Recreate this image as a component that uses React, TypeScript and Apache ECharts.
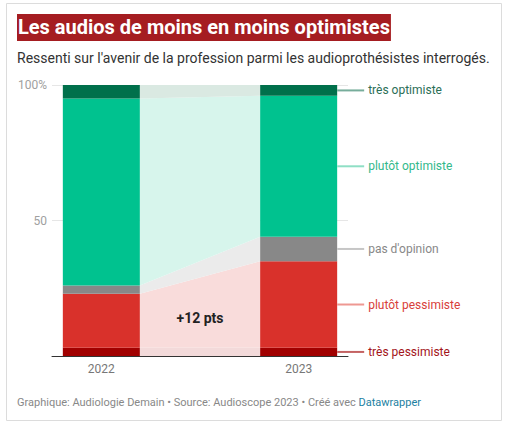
import React, { useEffect, useRef } from 'react';
import * as echarts from 'echarts';

const years = ['2022', '2023'];
const categories = ['très pessimiste', 'plutôt pessimiste', "pas d'opinion", 'plutôt optimiste', 'très optimiste'];
const values2022 = [3, 20, 3, 69, 5];
const values2023 = [3, 32, 9, 52, 4];
const yTickLabels: Record<number, string> = { 100: '100%', 50: '50', 0: '' };
const annotation = { x: 0.5, y: 14, text: '+12 pts' };

const barColors = ['#a10000', '#d9312b', '#888888', '#00c28f', '#00704b'];
const bandColors = ['#f3dada', '#f9dcdb', '#ebebeb', '#d7f5ec', '#dae9e2'];
const labelColors = ['#a3141a', '#d8403a', '#888888', '#33b98b', '#2b6e56'];
const leaderColors = ['#c46262', '#ee9892', '#c6c6c6', '#8fdfc5', '#77ad9b'];

const FONT = 'Roboto, "Noto Sans", sans-serif';
const HALF_BAR = 38.5;

// cumulative bounds for each stacked band
const cumulate = (vals: number[]) => {
  let acc = 0;
  return vals.map((v) => {
    const lo = acc;
    acc += v;
    return [lo, acc];
  });
};
const bounds2022 = cumulate(values2022);
const bounds2023 = cumulate(values2023);

const App: React.FC = () => {
  const chartRef = useRef<HTMLDivElement>(null);

  useEffect(() => {
    if (!chartRef.current) return;
    const chart = echarts.init(chartRef.current, undefined, { renderer: 'svg' });

    // one item per band: [index, lo2022, hi2022, lo2023, hi2023]
    const bandData = categories.map((_, i) => [
      i,
      bounds2022[i][0],
      bounds2022[i][1],
      bounds2023[i][0],
      bounds2023[i][1],
    ]);

    const option: echarts.EChartsOption = {
      animation: false,
      backgroundColor: '#fff',
      title: [
        {
          text: 'Les audios de moins en moins optimistes',
          left: 17,
          top: 14,
          padding: [3, 1, 4, 1],
          backgroundColor: '#a51d21',
          textStyle: { color: '#fff', fontFamily: FONT, fontWeight: 'bold', fontSize: 20 },
        },
        {
          text: "Ressenti sur l'avenir de la profession parmi les audioprothésistes interrogés.",
          left: 17,
          top: 51,
          padding: 0,
          textStyle: { color: '#333', fontFamily: FONT, fontWeight: 'normal', fontSize: 14 },
        },
        {
          text: 'Graphique: Audiologie Demain • Source: Audioscope 2023 • Créé avec {a|Datawrapper}',
          left: 17,
          top: 397,
          padding: 0,
          textStyle: {
            color: '#888',
            fontFamily: FONT,
            fontWeight: 'normal',
            fontSize: 11,
            rich: { a: { color: '#1d81a2', fontFamily: FONT, fontSize: 11 } },
          },
        },
      ],
      graphic: [
        {
          type: 'rect',
          shape: { x: 6.5, y: 3.5, width: 495, height: 417 },
          style: { fill: 'none', stroke: '#dcdcdc', lineWidth: 1 },
          silent: true,
        },
      ],
      grid: { left: 52, right: 162, top: 85, bottom: 70 },
      xAxis: {
        type: 'value',
        min: -0.25,
        max: 1.25,
        interval: 0.25,
        axisLine: { show: true, lineStyle: { color: '#333', width: 1 } },
        axisTick: { show: false },
        splitLine: { show: false },
        axisLabel: {
          color: '#777',
          fontFamily: FONT,
          fontSize: 12,
          margin: 7,
          formatter: (v: number) => {
            const idx = Math.round(v);
            return Math.abs(v - idx) < 1e-6 && years[idx] ? years[idx] : '';
          },
        },
      },
      yAxis: {
        type: 'value',
        min: 0,
        max: 100,
        interval: 50,
        axisLine: { show: false },
        axisTick: { show: false },
        splitLine: { lineStyle: { color: '#e6e6e6', width: 1 } },
        axisLabel: {
          color: '#a0a0a0',
          fontFamily: FONT,
          fontSize: 12,
          margin: 5,
          formatter: (v: number) => yTickLabels[v] ?? '',
        },
      },
      series: [
        {
          type: 'custom',
          name: 'bands',
          z: 2,
          silent: true,
          data: bandData,
          renderItem: (_params: any, api: any) => {
            const i = api.value(0);
            const x22 = api.coord([0, 0])[0];
            const x23 = api.coord([1, 0])[0];
            const y = (v: number) => api.coord([0, v])[1];
            const lo22 = y(api.value(1));
            const hi22 = y(api.value(2));
            const lo23 = y(api.value(3));
            const hi23 = y(api.value(4));
            const xL = x22 + HALF_BAR;
            const xR = x23 - HALF_BAR;
            const xEnd = x23 + HALF_BAR;
            const yMid = (lo23 + hi23) / 2;
            return {
              type: 'group',
              children: [
                {
                  type: 'polygon',
                  shape: { points: [[xL, lo22], [xL, hi22], [xR, hi23], [xR, lo23]] },
                  style: { fill: bandColors[i] },
                },
                {
                  type: 'rect',
                  shape: { x: x22 - HALF_BAR, y: hi22, width: HALF_BAR * 2, height: lo22 - hi22 },
                  style: { fill: barColors[i] },
                },
                {
                  type: 'rect',
                  shape: { x: x23 - HALF_BAR, y: hi23, width: HALF_BAR * 2, height: lo23 - hi23 },
                  style: { fill: barColors[i] },
                },
                {
                  type: 'line',
                  shape: { x1: xEnd, y1: yMid, x2: xEnd + 27, y2: yMid },
                  style: { stroke: leaderColors[i], lineWidth: 2 },
                },
                {
                  type: 'text',
                  style: {
                    text: categories[i],
                    x: xEnd + 31,
                    y: yMid,
                    fill: labelColors[i],
                    font: `12px ${FONT}`,
                    verticalAlign: 'middle',
                    align: 'left',
                  },
                },
              ],
            };
          },
        },
        {
          type: 'custom',
          name: 'annotation',
          z: 4,
          silent: true,
          data: [[annotation.x, annotation.y]],
          renderItem: (_params: any, api: any) => {
            const p = api.coord([api.value(0), api.value(1)]);
            return {
              type: 'text',
              style: {
                text: annotation.text,
                x: p[0],
                y: p[1],
                fill: '#222',
                font: `bold 14px ${FONT}`,
                align: 'center',
                verticalAlign: 'middle',
              },
            };
          },
        },
      ],
    };

    chart.setOption(option);
    return () => {
      chart.dispose();
    };
  }, []);

  return (
    <div
      ref={chartRef}
      style={{ position: 'absolute', left: 0, top: 0, width: '510px', height: '426px' }}
    />
  );
};

export default App;
